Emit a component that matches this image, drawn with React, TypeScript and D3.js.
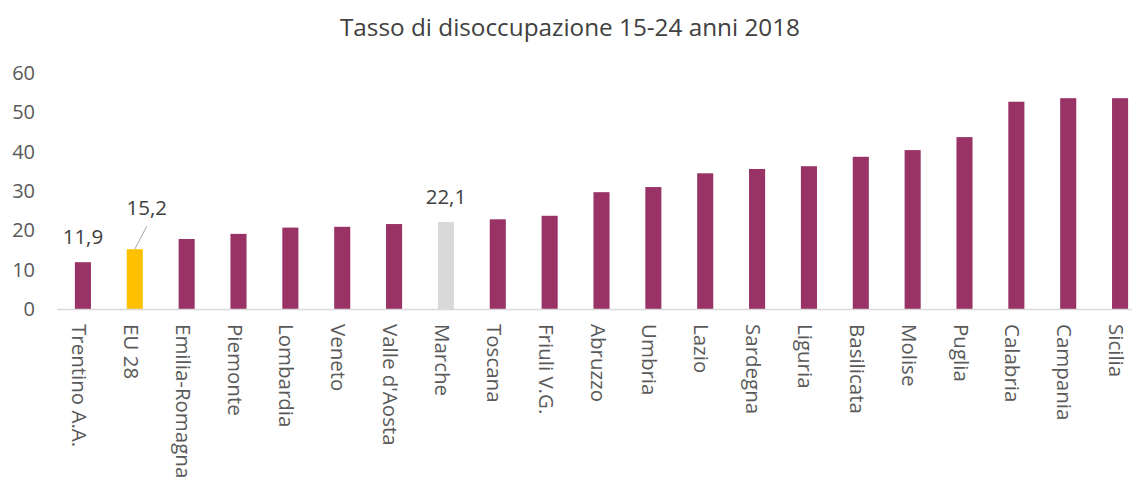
import React from "react";
import * as d3 from "d3";

const categories = ["Trentino A.A.", "EU 28", "Emilia-Romagna", "Piemonte", "Lombardia", "Veneto", "Valle d'Aosta", "Marche", "Toscana", "Friuli V.G.", "Abruzzo", "Umbria", "Lazio", "Sardegna", "Liguria", "Basilicata", "Molise", "Puglia", "Calabria", "Campania", "Sicilia"];
const values = [11.9, 15.2, 17.8, 19.1, 20.7, 20.9, 21.6, 22.1, 22.8, 23.7, 29.7, 31.0, 34.5, 35.6, 36.3, 38.7, 40.4, 43.7, 52.7, 53.6, 53.6];
const yTicks = [0, 10, 20, 30, 40, 50, 60];
const labelled = ["Trentino A.A.", "EU 28", "Marche"];
const title = "Tasso di disoccupazione 15-24 anni 2018";

const W = 1132, H = 482;
const FONT = "'Open Sans', 'Liberation Sans', sans-serif";

export default function App() {
  const x = d3.scaleBand<string>().domain(categories).range([57, 1146]).paddingInner(0.69).paddingOuter(0.345);
  const y = d3.scaleLinear().domain([0, 60]).range([309, 73]);
  const color = (c: string) => (c === "EU 28" ? "#ffc000" : c === "Marche" ? "#d9d9d9" : "#993366");
  const fmt = (v: number) => v.toFixed(1).replace(".", ",");
  return (
    <svg width={W} height={H} style={{ position: "absolute", left: 0, top: 0, background: "#fff" }} fontFamily={FONT}>
      <text x={570} y={36} textAnchor="middle" fontSize={24.3} fill="#404040">{title}</text>
      {yTicks.map((t) => (
        <text key={t} x={35} y={y(t)} dy="0.35em" textAnchor="end" fontSize={20} fill="#595959">{t}</text>
      ))}
      {categories.map((c, i) => (
        <rect key={c} x={x(c)} y={y(values[i])} width={x.bandwidth()} height={y(0) - y(values[i])} fill={color(c)} />
      ))}
      <line x1={57} x2={W} y1={y(0) + 0.5} y2={y(0) + 0.5} stroke="#d9d9d9" strokeWidth={1.5} />
      {categories.map((c) => {
        const cx = (x(c) as number) + x.bandwidth() / 2;
        return (
          <text key={c} transform={`translate(${cx - 11},${324}) rotate(90)`} fontSize={20.5} fill="#595959">{c}</text>
        );
      })}
      {categories.map((c, i) => {
        if (!labelled.includes(c)) return null;
        const cx = (x(c) as number) + x.bandwidth() / 2;
        const top = y(values[i]);
        if (c === "EU 28") {
          return (
            <g key={c}>
              <line x1={cx} x2={cx + 12} y1={top} y2={top - 23} stroke="#a6a6a6" strokeWidth={1} />
              <text x={cx + 12} y={top - 34} textAnchor="middle" fontSize={20.5} fill="#404040">{fmt(values[i])}</text>
            </g>
          );
        }
        return (
          <text key={c} x={cx} y={top - 18} textAnchor="middle" fontSize={20.5} fill="#404040">{fmt(values[i])}</text>
        );
      })}
    </svg>
  );
}
